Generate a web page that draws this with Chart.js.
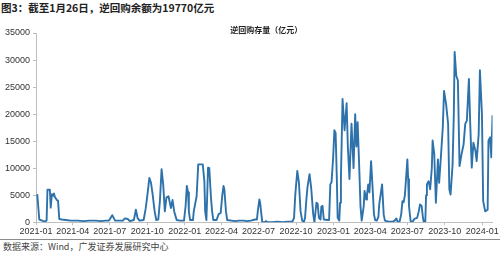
<!DOCTYPE html>
<html>
<head>
<meta charset="utf-8">
<script src="https://cdn.jsdelivr.net/npm/chart.js@4/dist/chart.umd.min.js"></script>
<style>
  html, body { margin: 0; padding: 0; background: #fff; }
  #wrap { position: relative; width: 500px; height: 254px; overflow: hidden; background: #fff;
    font-family: "Noto Sans CJK SC", "Liberation Sans", sans-serif; }
  .title { position: absolute; left: 1px; top: 1px; font-size: 10.5px; font-weight: bold; color: #222; line-height: 14px; white-space: nowrap; }
  .box { position: absolute; left: 0; top: 18px; width: 500px; height: 220px; }
  .rule { position: absolute; left: 0; top: 239px; width: 500px; height: 1px; background: #8c8c8c; }
  .source { position: absolute; left: 3px; top: 241px; font-size: 9px; color: #444; line-height: 12px; white-space: nowrap; }
</style>
</head>
<body>
<div id="wrap">
  <div class="title">图3：截至1月26日，逆回购余额为19770亿元</div>
  <div class="box"><canvas id="chartRepo"></canvas></div>
  <div class="rule"></div>
  <div class="source">数据来源：Wind，广发证券发展研究中心</div>
</div>
<script>
// ── 逆回购存量（亿元） ─────────────────
const seriesName = '逆回购存量（亿元）';

const dates = [
  '2021-01-04','2021-01-09','2021-01-16','2021-01-23','2021-01-27','2021-01-29','2021-02-04','2021-02-06','2021-02-09','2021-02-12',
  '2021-02-14','2021-02-16','2021-02-21','2021-02-24','2021-02-27','2021-03-05','2021-03-15','2021-03-27','2021-04-13','2021-04-28',
  '2021-05-12','2021-05-27','2021-06-10','2021-06-20','2021-06-29','2021-07-07','2021-07-14','2021-07-26','2021-08-02','2021-08-07',
  '2021-08-14','2021-08-19','2021-08-29','2021-09-03','2021-09-07','2021-09-12','2021-09-22','2021-09-27','2021-10-02','2021-10-06',
  '2021-10-10','2021-10-14','2021-10-19','2021-10-23','2021-10-28','2021-11-01','2021-11-05','2021-11-09','2021-11-13','2021-11-17',
  '2021-11-22','2021-11-28','2021-12-02','2021-12-06','2021-12-12','2021-12-20','2021-12-30','2022-01-03','2022-01-06','2022-01-09',
  '2022-01-11','2022-01-14','2022-01-21','2022-01-23','2022-01-30','2022-02-03','2022-02-14','2022-02-18','2022-02-20','2022-02-23',
  '2022-02-25','2022-02-27','2022-03-02','2022-03-06','2022-03-09','2022-03-12','2022-03-20','2022-03-25','2022-03-30','2022-04-03',
  '2022-04-06','2022-04-08','2022-04-12','2022-04-15','2022-04-25','2022-05-05','2022-05-14','2022-05-24','2022-06-03','2022-06-12',
  '2022-06-22','2022-06-27','2022-06-29','2022-07-03','2022-07-05','2022-07-10','2022-07-16','2022-07-19','2022-07-23','2022-08-04',
  '2022-08-16','2022-08-29','2022-09-10','2022-09-22','2022-09-26','2022-09-29','2022-10-04','2022-10-08','2022-10-12','2022-10-16',
  '2022-10-20','2022-10-23','2022-10-26','2022-10-29','2022-11-03','2022-11-07','2022-11-12','2022-11-15','2022-11-20','2022-11-23',
  '2022-11-26','2022-11-30','2022-12-02','2022-12-05','2022-12-08','2022-12-18','2022-12-21','2022-12-24','2022-12-27','2022-12-31',
  '2023-01-03','2023-01-06','2023-01-09','2023-01-11','2023-01-15','2023-01-17','2023-01-19','2023-01-23','2023-01-28','2023-02-02',
  '2023-02-05','2023-02-09','2023-02-14','2023-02-19','2023-02-23','2023-02-26','2023-03-01','2023-03-05','2023-03-08','2023-03-11',
  '2023-03-16','2023-03-18','2023-03-22','2023-03-24','2023-03-27','2023-03-30','2023-04-03','2023-04-07','2023-04-10','2023-04-13',
  '2023-04-17','2023-04-21','2023-04-23','2023-04-30','2023-05-04','2023-05-07','2023-05-16','2023-05-26','2023-05-31','2023-06-04',
  '2023-06-07','2023-06-12','2023-06-16','2023-06-19','2023-06-22','2023-06-25','2023-07-01','2023-07-03','2023-07-05','2023-07-09',
  '2023-07-14','2023-07-18','2023-07-25','2023-07-29','2023-08-01','2023-08-05','2023-08-08','2023-08-10','2023-08-14','2023-08-16',
  '2023-08-18','2023-08-22','2023-08-26','2023-08-30','2023-09-01','2023-09-05','2023-09-09','2023-09-14','2023-09-17','2023-09-22',
  '2023-09-26','2023-09-29','2023-10-04','2023-10-09','2023-10-12','2023-10-15','2023-10-20','2023-10-23','2023-10-25','2023-10-29',
  '2023-11-02','2023-11-06','2023-11-11','2023-11-16','2023-11-20','2023-11-24','2023-11-29','2023-12-02','2023-12-06','2023-12-10',
  '2023-12-15','2023-12-18','2023-12-23','2023-12-26','2023-12-31','2024-01-03','2024-01-08','2024-01-14','2024-01-16','2024-01-20',
  '2024-01-23','2024-01-26'
];

const values = [
  5200, 500, 300, 100, 300, 6000, 6000, 2700, 5200, 4900,
  5300, 4700, 4100, 4000, 600, 500, 400, 300, 300, 200,
  300, 300, 200, 300, 300, 1300, 300, 300, 300, 700,
  600, 200, 400, 2300, 800, 300, 400, 2500, 5500, 8200,
  7300, 5200, 2000, 400, 500, 4000, 9800, 7000, 2000, 4600,
  4800, 2600, 4100, 2000, 400, 300, 300, 3000, 6700, 5500,
  2000, 400, 400, 2000, 4800, 10700, 10700, 7600, 2000, 400,
  5000, 10100, 10000, 4800, 2000, 400, 400, 1500, 1700, 5000,
  6700, 6100, 2000, 400, 300, 200, 300, 300, 200, 300,
  500, 500, 2000, 4200, 3500, 0, 0, 200, 0, 0,
  100, 0, 100, 100, 800, 5000, 9500, 7300, 2000, 300,
  0, 800, 3900, 6500, 8900, 6400, 1500, 0, 3600, 3400,
  800, 500, 2900, 3000, 500, 400, 400, 7000, 7400, 12000,
  17000, 16500, 8000, 800, 300, 3600, 8000, 22800, 17000, 22000,
  14000, 8000, 18200, 10000, 20000, 14000, 18500, 10000, 3000, 300,
  3000, 5800, 4200, 5000, 7000, 5500, 11300, 6000, 1500, 400,
  300, 1000, 3300, 7000, 1400, 300, 100, 100, 300, 700,
  100, 100, 1500, 3900, 3700, 5000, 11600, 8000, 3000, 200,
  100, 600, 800, 2000, 3300, 3000, 1000, 100, 100, 5000,
  7000, 7600, 6100, 10000, 15100, 12600, 3600, 11600, 7300, 12900,
  17600, 24300, 21900, 18200, 6100, 5100, 10700, 20000, 31500, 27100,
  26200, 10400, 12600, 14400, 18200, 18800, 26500, 18800, 10100, 14700,
  13200, 11300, 16300, 28100, 20000, 3900, 2000, 2300, 15100, 15700,
  12000, 19770
];

const tickLabels = ['2021-01','2021-04','2021-07','2021-10','2022-01','2022-04','2022-07',
  '2022-10','2023-01','2023-04','2023-07','2023-10','2024-01'];

const yTicks = [0, 5000, 10000, 15000, 20000, 25000, 30000, 35000];

// 日期 → 自 2021-01-01 起的天数
function dayIndex(s) {
  const [y, m, d] = s.split('-').map(Number);
  return (Date.UTC(y, m - 1, d || 1) - Date.UTC(2021, 0, 1)) / 864e5;
}

const tickDays = tickLabels.map(dayIndex);
const axisColor = '#bfbfbf';
const textColor = '#333';

new Chart(document.getElementById('chartRepo'), {
  type: 'line',
  data: {
    datasets: [{
      label: seriesName,
      data: dates.map((d, i) => ({ x: dayIndex(d), y: values[i] })),
      borderColor: '#2e72ab', backgroundColor: 'transparent',
      borderWidth: 1.9, pointRadius: 0, tension: 0,
      borderJoinStyle: 'round', fill: false
    }]
  },
  options: {
    responsive: true, maintainAspectRatio: false, animation: false,
    layout: { padding: { top: 15, right: 6, bottom: 0, left: 2 } },
    plugins: { legend: { display: false }, tooltip: { enabled: false }, title: { display: false } },
    scales: {
      x: {
        type: 'linear', min: 0, max: dayIndex(dates[dates.length - 1]),
        afterBuildTicks: sc => { sc.ticks = tickDays.map(v => ({ value: v })); },
        ticks: {
          autoSkip: false, maxRotation: 0, padding: 1, color: textColor,
          font: { family: 'Liberation Sans', size: 9 },
          callback: v => tickLabels[tickDays.indexOf(v)] ?? ''
        },
        grid: { drawOnChartArea: false, drawTicks: true, tickLength: 3, color: axisColor },
        border: { color: axisColor }
      },
      y: {
        min: 0, max: 35000,
        afterBuildTicks: sc => { sc.ticks = yTicks.map(v => ({ value: v })); },
        ticks: { padding: 3, color: textColor, font: { family: 'Liberation Sans', size: 9 },
          callback: v => String(v) },
        grid: { drawOnChartArea: false, drawTicks: true, tickLength: 3, color: axisColor },
        border: { color: axisColor }
      }
    }
  },
  plugins: [{
    id: 'series-title',
    afterDraw(chart) {
      const { ctx: c, chartArea } = chart;
      c.save();
      c.fillStyle = '#222'; c.font = 'bold 8px "Noto Sans CJK SC"';
      c.textAlign = 'center'; c.textBaseline = 'middle';
      c.fillText(seriesName, (chartArea.left + chartArea.right) / 2 + 2, chartArea.top - 3);
      c.restore();
    }
  }]
});
</script>
</body>
</html>
